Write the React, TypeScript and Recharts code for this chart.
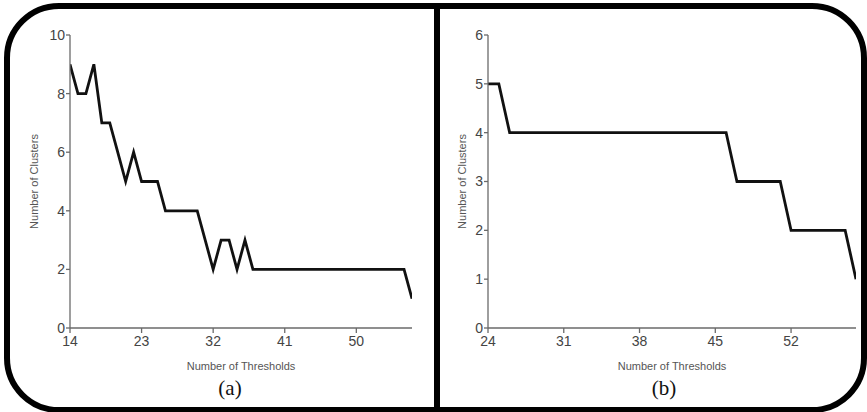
import { LineChart, Line, XAxis, YAxis } from 'recharts';

// panel (a)
const thresholdsA = [14, 15, 16, 17, 18, 19, 20, 21, 22, 23, 24, 25, 26, 27, 28, 29, 30, 31, 32, 33, 34, 35, 36, 37, 38, 39, 40, 41, 42, 43, 44, 45, 46, 47, 48, 49, 50, 51, 52, 53, 54, 55, 56, 57];
const clustersA = [9, 8, 8, 9, 7, 7, 6, 5, 6, 5, 5, 5, 4, 4, 4, 4, 4, 3, 2, 3, 3, 2, 3, 2, 2, 2, 2, 2, 2, 2, 2, 2, 2, 2, 2, 2, 2, 2, 2, 2, 2, 2, 2, 1];
const xTicksA = [14, 23, 32, 41, 50];
const yTicksA = [0, 2, 4, 6, 8, 10];

// panel (b)
const thresholdsB = [24, 25, 26, 27, 28, 29, 30, 31, 32, 33, 34, 35, 36, 37, 38, 39, 40, 41, 42, 43, 44, 45, 46, 47, 48, 49, 50, 51, 52, 53, 54, 55, 56, 57, 58];
const clustersB = [5, 5, 4, 4, 4, 4, 4, 4, 4, 4, 4, 4, 4, 4, 4, 4, 4, 4, 4, 4, 4, 4, 4, 3, 3, 3, 3, 3, 2, 2, 2, 2, 2, 2, 1];
const xTicksB = [24, 31, 38, 45, 52];
const yTicksB = [0, 1, 2, 3, 4, 5, 6];

const dataA = thresholdsA.map((t, i) => ({ t, c: clustersA[i] }));
const dataB = thresholdsB.map((t, i) => ({ t, c: clustersB[i] }));

const axisColor = '#6a6a6a';
const font = 'Liberation Sans, Arial, sans-serif';
const tickStyle = { fill: '#444', fontSize: 14, fontFamily: font };
const labelStyle = { fill: '#555', fontSize: 11, fontFamily: font, textAnchor: 'middle' as const };

const Panel = ({ data, xTicks, yTicks, xDomain, yDomain, margin, yLabelOffset }: any) => (
  <LineChart width={430} height={412} data={data} margin={margin}>
    <XAxis
      dataKey='t'
      type='number'
      domain={xDomain}
      ticks={xTicks}
      stroke={axisColor}
      strokeWidth={1.3}
      tickSize={5}
      tickMargin={3}
      height={30}
      fontSize={14}
      tick={tickStyle}
      allowDataOverflow
      label={{ value: 'Number of Thresholds', position: 'bottom', offset: 4, style: labelStyle }}
    />
    <YAxis
      type='number'
      domain={yDomain}
      ticks={yTicks}
      stroke={axisColor}
      strokeWidth={1.3}
      tickSize={4}
      tickMargin={1}
      width={40}
      fontSize={14}
      tick={tickStyle}
      label={{ value: 'Number of Clusters', angle: -90, position: 'insideLeft', offset: yLabelOffset, style: labelStyle }}
    />
    <Line
      type='linear'
      dataKey='c'
      stroke='#111'
      strokeWidth={2.8}
      dot={false}
      isAnimationActive={false}
    />
  </LineChart>
);

const captionStyle: any = {
  position: 'absolute',
  top: 376,
  fontFamily: '"Liberation Serif", "Times New Roman", serif',
  fontSize: 21,
  color: '#111',
  transform: 'translateX(-50%)',
};

export default function App() {
  return (
    <div style={{ position: 'absolute', left: 0, top: 0, width: 867, height: 412, overflow: 'hidden', background: '#fff' }}>
      <div style={{ position: 'absolute', left: 0, top: 0 }}>
        <Panel
          data={dataA}
          xTicks={xTicksA}
          yTicks={yTicksA}
          xDomain={[14, 57]}
          yDomain={[0, 10]}
          margin={{ top: 35, right: 18, left: 30, bottom: 54 }}
          yLabelOffset={4}
        />
      </div>
      <div style={{ position: 'absolute', left: 437, top: 0 }}>
        <Panel
          data={dataB}
          xTicks={xTicksB}
          yTicks={yTicksB}
          xDomain={[24, 58]}
          yDomain={[0, 6]}
          margin={{ top: 35, right: 11, left: 11, bottom: 54 }}
          yLabelOffset={14}
        />
      </div>
      <div style={{ ...captionStyle, left: 230 }}>(a)</div>
      <div style={{ ...captionStyle, left: 664 }}>(b)</div>
      <div
        style={{
          position: 'absolute',
          left: 4,
          top: 3,
          width: 863,
          height: 410,
          boxSizing: 'border-box',
          border: '6px solid #000',
          borderRadius: 55,
          pointerEvents: 'none',
        }}
      />
      <div style={{ position: 'absolute', left: 434, top: 3, width: 6, height: 410, background: '#000' }} />
    </div>
  );
}
